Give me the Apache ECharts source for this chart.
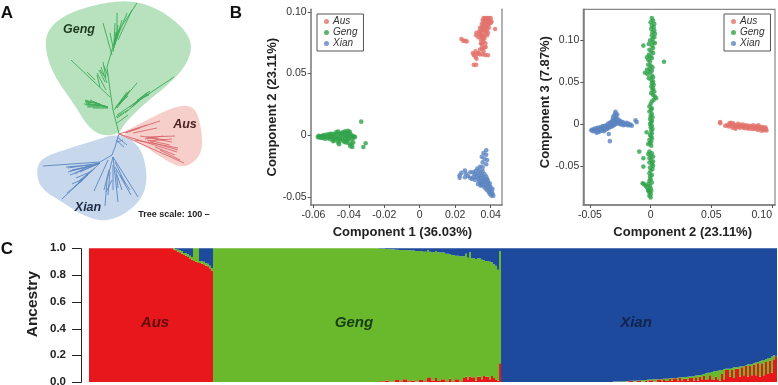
<!DOCTYPE html>
<html><head><meta charset="utf-8">
<style>html,body{margin:0;padding:0;background:#fff}#c{width:778px;height:385px}</style>
<script src="https://cdn.jsdelivr.net/npm/echarts@6/dist/echarts.min.js"></script>
</head><body><div id="c"></div>
<script>
const FONT = '"Liberation Sans", Arial, sans-serif';
const colAus = '#e2706a', colGeng = '#2fa34a', colXian = '#5b84c0';

// ---------- Panel A: tree outline and branches (tree layout units) ----------
const hullGeng = [[130,0],[157,8],[182,26],[193,45],[186,66],[168,85],[144,104],[124,124],[119,134],[102,136],[88,127],[74,104],[54,76],[45,50],[47,30],[66,14],[97,4]];
const hullAus = [[120,134],[143,122],[173,107],[191,105],[199,116],[203,143],[199,158],[183,169],[162,158],[140,143]];
const hullXian = [[119,133],[141,146],[148,177],[142,199],[124,215],[103,222],[82,215],[62,202],[41,189],[36,172],[41,158],[67,149],[93,141]];

const branchGeng = [
 [119,134,113,110],[113,110,110,90],[110,90,107,67],[107,67,112,50],[112,50,117,33],[117,33,137,3],
 [110,97,71,60],[95,80,87,72],[100,87,97,75],[106,90,97,73],[107,83,101,67],[106,78,103,62],[105,82,99,70],[104,76,100,70],[108,76,104,66],
 [108,107,85,100],[108,107,86,103],[108,107,87,107],[108,108,90,100],[108,108,93,108],[100,104,85,101],[100,105,86,105],[100,106,88,106],[97,103,85,102],[105,106,84,104],
 [114,110,137,83],[116,107,127,92],[118,105,130,90],[117,108,128,94],[115,108,125,97],[120,103,129,92],[119,104,128,96],
 [117,115,174,77],[130,107,148,92],[135,103,150,93],[132,107,147,94],[140,98,150,91],[125,113,140,100],[137,100,149,95],
 [117,123,128,115],[116,117,128,110],[117,118,124,113],
 [112,55,103,23],[113,47,110,33],[115,43,127,13],[117,37,117,13],[114,43,115,23],[118,40,132,10],[116,40,122,20],[114,48,118,25],[115,45,120,27],[113,52,116,32]
];
const branchAus = [
 [119,134,160,121],[119,134,184,163],[119,134,177,152],[135,140,178,148],[146,137,175,136],[147,140,170,145],[150,142,178,150],
 [127,132,147,125],[133,133,157,128],[125,133,140,128],[150,138,172,142],[155,147,175,155],[160,150,180,160],[140,136,165,140],[145,139,163,136],[148,141,172,139]
];
const branchXian = [
 [119,134,115,147],[115,147,112,155],[112,155,100,162],[100,162,43,166],[100,163,68,168],[100,163,68,172],[100,163,70,175],[100,163,80,172],[95,165,72,170],[92,166,70,171],[90,165,66,167],[88,166,75,174],
 [100,163,62,199],[85,178,72,184],[88,175,74,187],[92,170,80,180],[83,180,67,193],[95,168,78,183],[90,172,76,178],
 [108,160,94,191],[113,157,107,180],[107,180,105,206],[113,157,118,202],[113,157,138,197],[115,167,131,195],[113,165,113,190],[110,172,108,195],[112,180,106,192],[117,175,122,190],[115,162,125,183],[116,170,118,188],[109,170,104,190],[120,175,130,190],
 [117,137,127,145],[117,142,123,140],[116,140,124,147]
];

// ---------- Panel B, left: Component 1 vs Component 2 ----------
const aus12 = [[.0235,.078],[.0245,.0765],[.0255,.0765],[.0265,.076],[.03,.0665],[.0305,.065],[.0315,.068],[.0315,.0635],[.0325,.066],[.0305,.057],[.0318,.057],[.032,.062],[.033,.0665],[.034,.0695],[.035,.0705],[.0362,.071],[.0372,.0715],[.036,.068],[.0355,.0655],[.037,.065],[.0385,.0648],[.034,.0655],[.0345,.0745],[.0345,.0775],[.033,.0795],[.0318,.081],[.032,.083],[.0335,.084],[.035,.0735],[.036,.076],[.037,.0745],[.0425,.086],[.034,.082],[.035,.081],[.036,.08],[.037,.082],[.038,.081],[.0345,.085],[.0355,.084],[.0365,.085],[.0375,.084],[.0385,.083],[.034,.087],[.035,.087],[.036,.088],[.037,.087],[.038,.086],[.039,.087],[.035,.09],[.036,.09],[.037,.09],[.038,.089],[.039,.09],[.04,.091],[.0355,.093],[.0365,.093],[.0375,.093],[.0385,.092],[.0395,.093],[.0405,.092],[.036,.095],[.037,.095],[.038,.095],[.039,.095],[.04,.095],[.0365,.0785],[.0355,.078],[.0345,.0805]];
const geng12 = [[-.0575,-.0015],[-.057,-.0005],[-.0565,-.0018],[-.056,-.0008],[-.0555,-.0022],[-.055,-.0005],[-.0545,-.0018],[-.054,.0002],[-.0535,-.0028],[-.053,-.0012],[-.0525,.0005],[-.052,-.0025],[-.0515,-.001],[-.051,.001],[-.0505,-.0032],[-.05,-.0015],[-.05,.0012],[-.0495,-.0005],[-.049,-.003],[-.0485,.0012],[-.048,-.0018],[-.048,-.0042],[-.0475,.0005],[-.047,-.0025],[-.047,.0025],[-.0465,-.001],[-.046,.003],[-.046,-.0035],[-.0455,.0012],[-.045,-.002],[-.045,-.0045],[-.0445,.0005],[-.044,.002],[-.044,-.003],[-.0435,-.0008],[-.043,.0025],[-.043,-.0045],[-.0425,.0005],[-.042,-.0025],[-.042,.0032],[-.0415,-.0008],[-.041,.0015],[-.041,-.004],[-.0405,.0035],[-.0405,-.001],[-.04,.0012],[-.04,-.0028],[-.0395,.0028],[-.039,-.0012],[-.039,.001],[-.0385,-.0035],[-.038,-.0005],[-.0375,-.002],[-.037,-.001],[-.0365,-.0015],[-.046,-.0058],[-.0455,-.0072],[-.0425,-.0055],[-.0415,-.0058],[-.04,-.0065],[-.0385,-.0072],[-.038,-.0095],[-.0392,-.0088],[-.0375,-.0058],[-.033,.011],[-.0305,-.0065],[-.0318,-.0095],[-.0488,-.0048]];
const xian12 = [[.0225,-.0325],[.0225,-.0345],[.0235,-.0305],[.0255,-.0285],[.026,-.031],[.0255,-.034],[.0272,-.033],[.0285,-.0345],[.0285,-.03],[.03,-.03],[.0295,-.0355],[.0375,-.0122],[.036,-.0145],[.0375,-.0158],[.035,-.0175],[.0365,-.019],[.038,-.02],[.0355,-.022],[.0375,-.0235],[.0355,-.026],[.034,-.0255],[.0325,-.027],[.0335,-.0285],[.0315,-.029],[.0345,-.03],[.0325,-.031],[.0355,-.029],[.031,-.0315],[.0335,-.0325],[.032,-.0335],[.035,-.0325],[.0365,-.0315],[.033,-.035],[.0345,-.0345],[.036,-.0345],[.0375,-.0335],[.0335,-.037],[.035,-.0365],[.0365,-.036],[.038,-.0355],[.034,-.0385],[.0355,-.038],[.037,-.0375],[.0385,-.037],[.035,-.04],[.0365,-.0395],[.038,-.039],[.0395,-.039],[.036,-.0415],[.0375,-.041],[.039,-.0405],[.037,-.043],[.0385,-.0425],[.04,-.042],[.038,-.0445],[.0395,-.044],[.041,-.0435],[.039,-.046],[.0405,-.0455],[.0395,-.0475],[.041,-.047],[.0405,-.049],[.0415,-.049],[.0342,-.0408],[.0328,-.0395],[.0312,-.0362],[.0305,-.0338]];

// ---------- Panel B, right: Component 2 vs Component 3 ----------
const aus23 = [[.0573,.0024],[.0573,.001],[.0615,-.002],[.063,-.0015],[.0645,-.003],[.065,.001],[.066,.0015],[.0665,-.002],[.0675,-.0045],[.068,.0008],[.069,-.001],[.0695,-.004],[.07,-.0055],[.071,-.002],[.072,.0002],[.0725,-.003],[.0735,-.0045],[.074,-.001],[.075,-.003],[.076,-.0005],[.0765,-.0045],[.0775,-.002],[.078,-.005],[.079,-.0015],[.08,-.0035],[.0805,-.0055],[.0815,-.002],[.082,-.005],[.083,-.003],[.084,-.006],[.0845,-.0015],[.0855,-.004],[.086,-.006],[.087,-.0025],[.0875,-.005],[.0885,-.007],[.089,-.0015],[.09,-.004],[.0905,-.006],[.0915,-.008],[.092,-.0035],[.093,-.005],[.0935,-.0075],[.0945,-.004],[.095,-.006],[.0955,-.0078]];
const geng23 = [[.001,.127],[.002,.124],[0,.122],[.003,.12],[.001,.118],[.0025,.116],[.0005,.114],[.003,.112],[.0015,.11],[.0035,.108],[.001,.106],[.003,.104],[.0015,.102],[-.0005,.1],[.002,.098],[.0035,.097],[-.0015,.096],[.001,.094],[-.006,.094],[.002,.091],[-.001,.089],[.0005,.087],[.002,.085],[-.0015,.083],[0,.081],[.001,.079],[-.003,.08],[-.002,.077],[-.0005,.075],[.011,.0747],[-.002,.071],[0,.07],[.0015,.068],[-.001,.066],[-.003,.065],[.001,.064],[-.0005,.062],[-.0047,.0615],[-.0025,.06],[.001,.058],[.002,.056],[-.0015,.055],[.0005,.053],[.002,.051],[.001,.049],[.0025,.047],[.0005,.045],[.002,.043],[.0015,.041],[.003,.039],[.0005,.037],[.002,.035],[.0035,.033],[.0045,.031],[.0025,.029],[.001,.027],[0,.024],[-.001,.021],[.001,.019],[.0005,.017],[-.001,.015],[.001,.012],[0,.01],[.0015,.008],[-.0005,.006],[.001,.004],[.0005,.002],[-.0005,0],[.001,-.002],[0,-.004],[.0015,-.006],[.0005,-.008],[-.0033,-.0098],[.001,-.011],[-.0005,-.013],[.0005,-.015],[.001,-.017],[-.001,-.019],[.0005,-.021],[-.0005,-.023],[-.002,-.024],[.0005,-.026],[-.0094,-.033],[-.001,-.033],[.001,-.035],[-.002,-.036],[0,-.038],[.002,-.039],[-.006,-.041],[-.001,-.041],[.0005,-.043],[.002,-.045],[-.001,-.046],[.001,-.048],[-.006,-.051],[.002,-.05],[-.0005,-.052],[.0015,-.054],[0,-.056],[-.001,-.059],[.001,-.061],[-.0005,-.063],[0,-.066],[-.001,-.068],[.001,-.07],[-.0066,-.071],[-.0055,-.072],[-.002,-.072],[-.004,-.074],[-.0005,-.074],[-.003,-.076],[0,-.077],[-.002,-.079],[.0005,-.08],[-.001,-.082],[-.002,-.08],[0,-.084],[-.001,-.086],[0,-.088]];
const xian23 = [[-.049,-.0075],[-.048,-.0065],[-.0475,-.0085],[-.047,-.007],[-.046,-.0055],[-.0455,-.0085],[-.045,-.0065],[-.0445,-.0105],[-.044,-.0045],[-.0435,-.0075],[-.043,-.0095],[-.0425,-.0045],[-.042,-.0065],[-.0415,-.0085],[-.041,-.0035],[-.0405,-.0055],[-.04,-.0075],[-.0395,-.0025],[-.039,-.0045],[-.039,-.0065],[-.0385,-.0085],[-.038,-.0025],[-.0375,-.0045],[-.037,-.0065],[-.0365,-.0015],[-.036,-.0035],[-.0355,-.0055],[-.035,.0005],[-.035,-.0025],[-.0345,-.0045],[-.034,-.0015],[-.0335,.0015],[-.033,-.0035],[-.0325,.0025],[-.032,-.0005],[-.0315,.0045],[-.0315,-.0025],[-.031,.0085],[-.031,.0015],[-.0305,.0055],[-.0305,-.0015],[-.03,.0105],[-.03,.0025],[-.0295,.0065],[-.0295,-.0005],[-.029,.0125],[-.029,.0148],[-.029,.0035],[-.0285,.0095],[-.0285,.0005],[-.028,.0065],[-.0275,.0115],[-.0275,.0015],[-.027,.0035],[-.0265,.0055],[-.026,.0005],[-.0255,.0025],[-.025,.0035],[-.0245,-.0005],[-.024,.0015],[-.023,.0025],[-.0225,-.0015],[-.022,.0005],[-.021,-.0005],[-.02,.0015],[-.019,-.0015],[-.0185,.0005],[-.0175,-.0015],[-.0165,-.0005],[-.0155,-.002],[-.0125,.0045],[-.0115,.0023],[-.0345,-.012],[-.0336,-.0205]];

// ---------- Panel C: ancestry, runs of neighbouring accessions ----------
const ausBins = [42,1,1,1,1,1,1,1,1,1,1,1,1,1,1,1,1,1,1,1,1];
const ausRed = [1,.99,.985,.975,.97,.96,.95,.945,.935,.925,.915,.905,.90,.895,.89,.885,.88,.87,.865,.85,.83];
const ausBlue = [0,0,.005,.01,.015,.02,.035,.035,.045,.055,.065,0,0,0,.095,.095,.10,.11,.115,.13,.15];
const gengBins = [83,3,2,3,2,2,2,2,2,2,2,2,1,1,2,1,2,2,2,1,2,2,2,1,1,1,1,2,1,2,1,1,2,1,1,1,1,1,1];
const gengRed = [0,.005,.012,.004,.015,.005,.02,.006,.012,.004,.015,.006,.03,.035,.012,.03,.008,.02,.006,.025,.005,.02,.005,.03,.04,.02,.04,.035,.01,.04,.02,.045,.04,.02,.045,.03,.015,.01,.14];
const gengBlue = [0,.004,.006,.007,.01,.012,.012,.015,.016,.02,.02,.025,.012,.025,.03,.02,.03,.032,.04,.045,.05,.055,.06,.06,.04,.07,.03,.075,.08,.075,.085,.09,.095,.10,.105,.12,.13,.16,.02];
const xianBins = [56,6,2,2,2,2,2,1,1,2,2,2,1,1,2,1,1,2,1,1,1,2,1,2,1,1,1,1,1,1,1,1,1,1,1,1,1,1,1,1,2,1,1,1,2,1,1,1,1,1,1,1,1,1,1,1,1,1,1,1,1,1,1,1];
const xianRed = [0,0,.003,.01,.002,.008,.002,.012,.003,.013,.004,.018,.006,.02,.008,.024,.01,.028,.012,.03,.012,.025,.01,.03,.012,.035,.012,.04,.02,.045,.015,.02,.05,.02,.015,.04,.02,.01,.06,.02,.09,.04,.09,.03,.10,.04,.11,.05,.12,.04,.12,.05,.13,.05,.14,.04,.14,.05,.15,.06,.16,.07,.17,.19];
const xianBlue = [1,.997,.993,.99,.99,.988,.985,.985,.983,.982,.98,.98,.978,.976,.975,.972,.97,.97,.968,.965,.965,.963,.96,.958,.955,.952,.95,.948,.945,.94,.935,.93,.93,.925,.92,.92,.915,.91,.91,.905,.90,.90,.895,.89,.89,.885,.885,.88,.875,.87,.87,.865,.86,.855,.85,.845,.84,.835,.83,.825,.82,.81,.80,.81];
const ancestryTicks = [0,0.2,0.4,0.6,0.8,1];

const red=[],green=[],blue=[],samples=[];
[[ausBins,ausRed,ausBlue],[gengBins,gengRed,gengBlue],[xianBins,xianRed,xianBlue]].forEach(([bins,r,b])=>{
  bins.forEach((n,i)=>{for(let k=0;k<n;k++){
    samples.push(samples.length);red.push(r[i]);blue.push(b[i]);
    green.push(Math.max(0,+(1-r[i]-b[i]).toFixed(4)));
  }});
});

const tickFmt = v => v===0 ? '0' : v.toFixed(2);
function scatterX(min,max,ticks,name,gap,grid,pad,maxAlign){return {type:'value',gridIndex:grid,min,max,name,nameLocation:'middle',nameGap:gap,
  nameTextStyle:{fontFamily:FONT,fontWeight:'bold',fontSize:13,color:'#222',padding:pad},
  splitLine:{show:false},axisLine:{onZero:false,lineStyle:{color:'#777',width:1.5}},
  axisTick:{length:3,customValues:ticks,lineStyle:{color:'#555'}},
  axisLabel:{customValues:ticks,formatter:tickFmt,fontFamily:FONT,fontSize:10.5,color:'#333',margin:5,alignMaxLabel:maxAlign}};}
function scatterY(min,max,ticks,name,gap,grid,pad){return {type:'value',gridIndex:grid,min,max,name,nameLocation:'middle',nameGap:gap,
  nameTextStyle:{fontFamily:FONT,fontWeight:'bold',fontSize:13,color:'#222',padding:pad},
  splitLine:{show:false},axisLine:{onZero:false,lineStyle:{color:'#777',width:1.5}},
  axisTick:{length:3,customValues:ticks,lineStyle:{color:'#555'}},
  axisLabel:{customValues:ticks,formatter:tickFmt,fontFamily:FONT,fontSize:10.5,color:'#333',margin:4}};}
function edgeY(grid){return {type:'value',gridIndex:grid,position:'right',min:0,max:1,axisLine:{show:true,onZero:false,lineStyle:{color:'#999',width:1.5}},axisTick:{show:false},axisLabel:{show:false},splitLine:{show:false}};}

function rounded(pts){ // corner-cutting so the drawn outline is a smooth closed curve
  let p=pts;
  for(let it=0;it<3;it++){const o=[];p.forEach((a,i)=>{const b=p[(i+1)%p.length];
    o.push([a[0]*.75+b[0]*.25,a[1]*.75+b[1]*.25],[a[0]*.25+b[0]*.75,a[1]*.25+b[1]*.75]);});p=o;}
  return p;
}
function hullSeries(pts,color){const c=rounded(pts);return {type:'custom',xAxisIndex:0,yAxisIndex:0,silent:true,z:1,data:[0],
  renderItem:(p,api)=>({type:'polygon',shape:{points:c.map(q=>api.coord(q))},style:{fill:color}})};}
function branchSeries(segs,color){return {type:'custom',xAxisIndex:0,yAxisIndex:0,silent:true,z:2,data:segs,
  encode:{x:[0,2],y:[1,3]},
  renderItem:(p,api)=>{const a=api.coord([api.value(0),api.value(1)]),b=api.coord([api.value(2),api.value(3)]);
    return {type:'line',shape:{x1:a[0],y1:a[1],x2:b[0],y2:b[1]},style:{stroke:color,lineWidth:0.9}};}};}
function ptSeries(name,data,color,x,y){return {name,type:'scatter',xAxisIndex:x,yAxisIndex:y,data,symbolSize:4.6,itemStyle:{color},z:3};}
function legendAt(left){return {orient:'vertical',left,top:14,width:44,data:['Aus','Geng','Xian'],icon:'circle',itemWidth:5,itemHeight:5,itemGap:0,
  padding:[2,6,2,7],backgroundColor:'#fff',borderColor:'#555',borderWidth:1,selectedMode:false,
  textStyle:{fontFamily:FONT,fontStyle:'italic',fontSize:10,color:'#333',padding:[0,0,0,-1],lineHeight:11}};}
function txt(x,y,text,size,opt){return {type:'text',x,y,z:20,style:Object.assign({text,fontFamily:FONT,fontSize:size,fontWeight:'bold',fill:'#222',textAlign:'center',textVerticalAlign:'middle'},opt||{})};}

// Ancestry axis rule and ticks, laid out from the same frame as its grid
const ruleLeft = 81, ruleTop = 248.3, ruleHeight = 133.7, tickLen = 9;
const ruleStyle = {stroke:'#222',lineWidth:1};
const tickY = v => Math.round(ruleTop + (1-v)*ruleHeight) + 0.5;
const rule = [{type:'line',z:30,shape:{x1:ruleLeft+0.5,y1:tickY(1),x2:ruleLeft+0.5,y2:tickY(0)},style:ruleStyle}]
  .concat(ancestryTicks.map(v=>({type:'line',z:30,shape:{x1:ruleLeft-tickLen,y1:tickY(v),x2:ruleLeft+0.5,y2:tickY(v)},style:ruleStyle})));

const option = {
  animation:false,backgroundColor:'#fff',
  legend:[legendAt(317),legendAt(724)],
  grid:[
    {left:0,top:0,width:240,height:235,outerBoundsMode:'none'},
    {left:310.7,top:9.3,width:191.3,height:195.7,outerBoundsMode:'none'},
    {left:583.3,top:9.3,width:191.7,height:195.7,show:true,borderColor:'#888',borderWidth:1.2,outerBoundsMode:'none'},
    {left:89,top:ruleTop,width:688,height:ruleHeight,outerBoundsMode:'none'},
    {left:ruleLeft,top:ruleTop,width:2,height:ruleHeight,outerBoundsMode:'none'}
  ],
  xAxis:[
    {type:'value',gridIndex:0,min:0,max:240,show:false},
    scatterX(-0.0615,0.0464,[-0.06,-0.04,-0.02,0,0.02,0.04],'Component 1 (36.03%)',14,1,[0,8,0,0]),
    scatterX(-0.0555,0.1025,[-0.05,0,0.05,0.10],'Component 2 (23.11%)',14,2,[0,0,0,7],'right'),
    {type:'category',gridIndex:3,data:samples,show:false},
    {type:'value',gridIndex:4,min:0,max:1,show:false}
  ],
  yAxis:[
    {type:'value',gridIndex:0,min:0,max:235,inverse:true,show:false},
    scatterY(-0.0565,0.102,[-0.05,0,0.05,0.10],'Component 2 (23.11%)',32,1),
    scatterY(-0.0970,0.1375,[-0.05,0,0.05,0.10],'Component 3 (7.87%)',28,2,[0,0,0,10]),
    {type:'value',gridIndex:3,min:0,max:1,show:false},
    edgeY(1),
    {type:'value',gridIndex:4,min:0,max:1,
     name:'Ancestry',nameLocation:'middle',nameGap:40,nameTextStyle:{fontFamily:FONT,fontWeight:'bold',fontSize:15.5,color:'#222',padding:[0,0,0,22]},
     splitLine:{show:false},axisLine:{show:false},axisTick:{show:false},
     axisLabel:{customValues:ancestryTicks,fontFamily:FONT,fontWeight:'bold',fontSize:11.5,color:'#222',margin:15,formatter:v=>v.toFixed(1)}}
  ],
  series:[
    hullSeries(hullGeng,'#b8e2be'),hullSeries(hullAus,'#f7cfca'),hullSeries(hullXian,'#c7d7ec'),
    branchSeries(branchGeng,'#39a955'),branchSeries(branchAus,'#d9666c'),branchSeries(branchXian,'#5a86c2'),
    ptSeries('Aus',aus12,colAus,1,1),ptSeries('Geng',geng12,colGeng,1,1),ptSeries('Xian',xian12,colXian,1,1),
    ptSeries('Aus',aus23,colAus,2,2),ptSeries('Geng',geng23,colGeng,2,2),ptSeries('Xian',xian23,colXian,2,2),
    {type:'bar',xAxisIndex:3,yAxisIndex:3,stack:'a',data:red,barCategoryGap:0,itemStyle:{color:'#e8171c'}},
    {type:'bar',xAxisIndex:3,yAxisIndex:3,stack:'a',data:green,barCategoryGap:0,itemStyle:{color:'#6ab82c'}},
    {type:'bar',xAxisIndex:3,yAxisIndex:3,stack:'a',data:blue,barCategoryGap:0,itemStyle:{color:'#1d4a9d'}},
    {type:'scatter',xAxisIndex:4,yAxisIndex:5,data:[[0,0]],symbolSize:0,silent:true}
  ],
  graphic:[
    txt(7,13,'A',17,{fill:'#111'}),txt(236,13,'B',17,{fill:'#111'}),txt(7,249,'C',17,{fill:'#111'}),
    txt(79,30,'Geng',12.5,{fontStyle:'italic',fill:'#1d3a20'}),
    txt(185,125,'Aus',12.5,{fontStyle:'italic',fill:'#4a2222'}),
    txt(88,208,'Xian',12.5,{fontStyle:'italic',fill:'#1c2a44'}),
    txt(174,215,'Tree scale: 100 –',9,{fill:'#222'}),
    txt(155,323,'Aus',15,{fontStyle:'italic',fill:'#5e0d0d'}),
    txt(354,323,'Geng',15,{fontStyle:'italic',fill:'#163d12'}),
    txt(636,323,'Xian',15,{fontStyle:'italic',fill:'#12234d'})
  ].concat(rule)
};
echarts.init(document.getElementById('c'),null,{renderer:'canvas'}).setOption(option);
</script></body></html>
